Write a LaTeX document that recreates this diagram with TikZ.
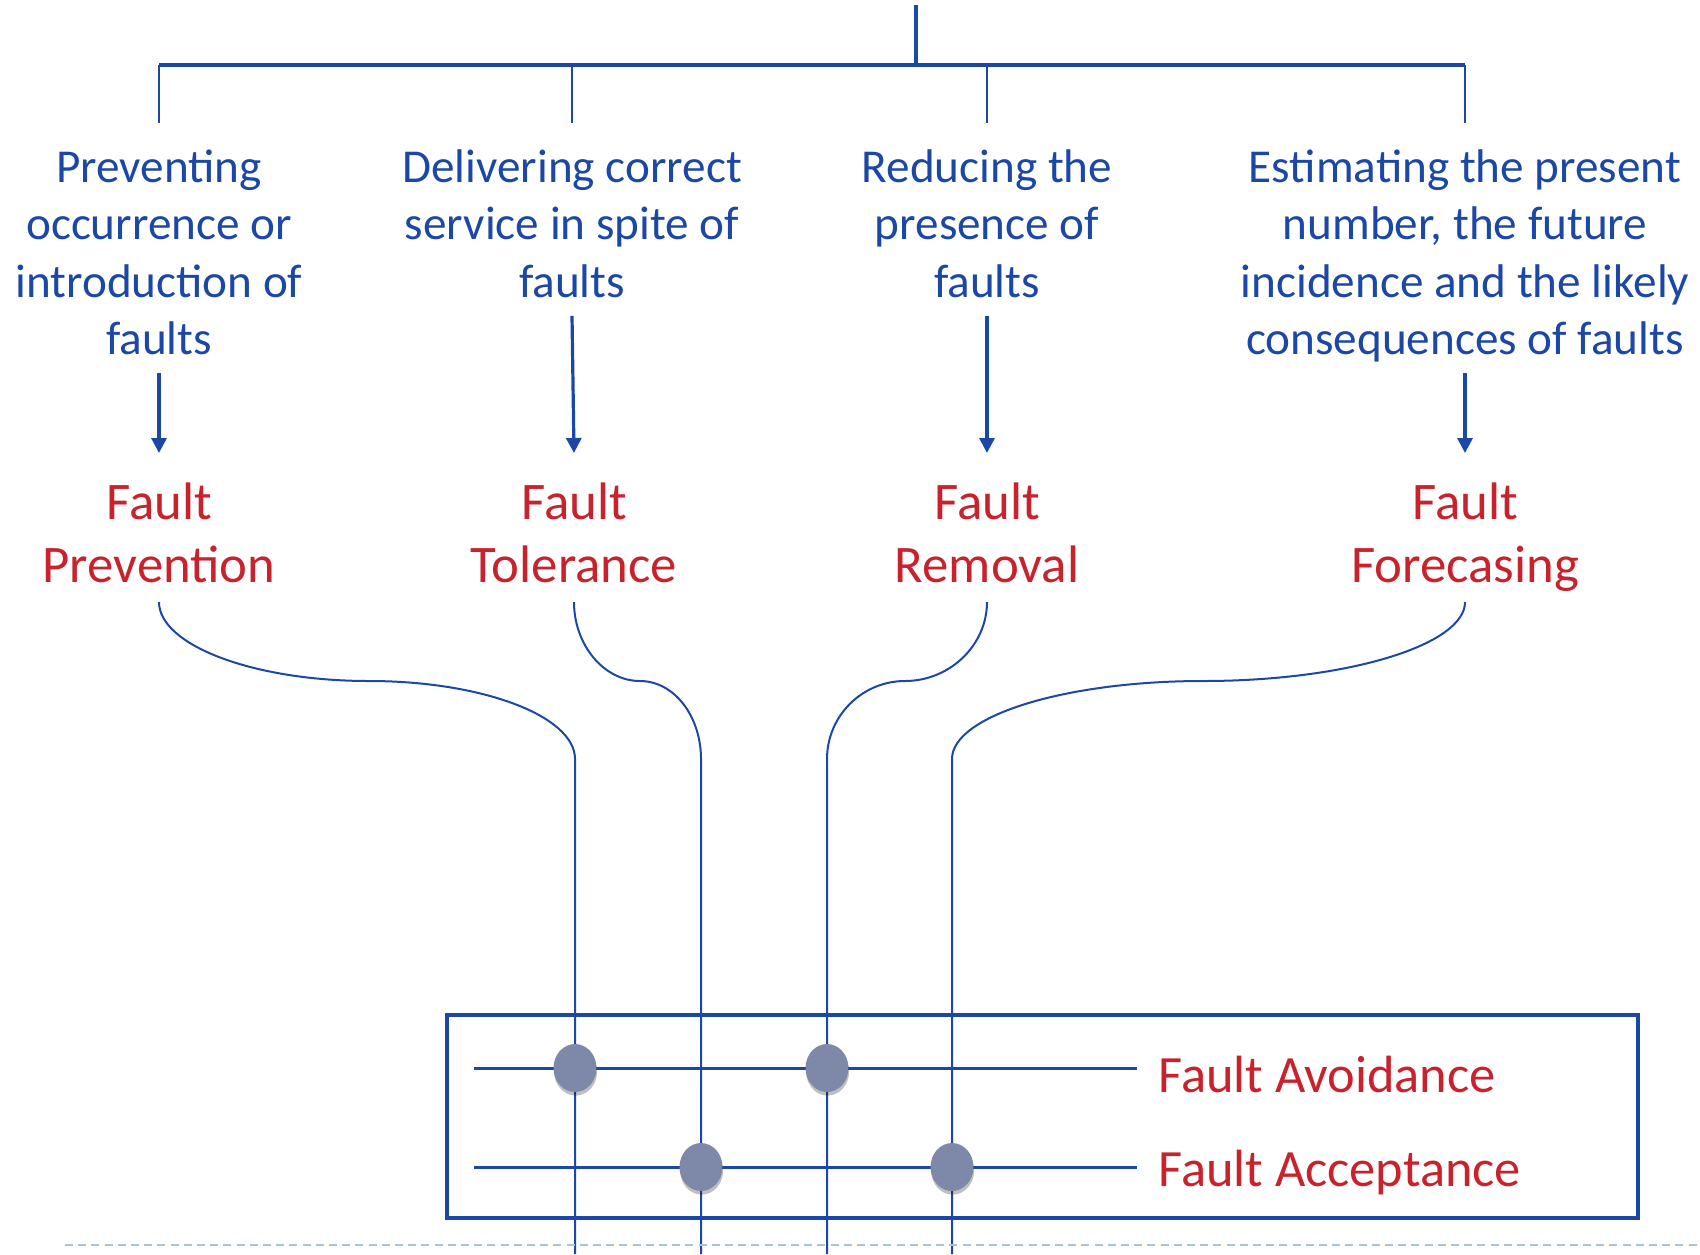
\documentclass[tikz,border=0pt]{standalone}
\usepackage{fontspec}
\setmainfont{Carlito}
\usetikzlibrary{arrows.meta,shapes.geometric,shadows,calc}
\definecolor{fblue}{HTML}{1B48A6}
\definecolor{fred}{HTML}{C8232C}
\definecolor{dotgray}{HTML}{7E88A8}
\definecolor{dashblue}{HTML}{A9C3DA}
\begin{document}
\begin{tikzpicture}[x=0.5pt,y=-0.5pt,
  desc/.style={text=fblue, font=\fontsize{23.6}{28.75}\selectfont, align=center, inner sep=0pt, anchor=north},
  kind/.style={text=fred, font=\fontsize{26.4}{31.5}\selectfont, align=center, inner sep=0pt, anchor=north},
  tag/.style={text=fred, font=\fontsize{26.2}{31.5}\selectfont, inner sep=0pt, anchor=west},
  bar/.style={draw=fblue, line width=1.8pt},
  drop/.style={draw=fblue, line width=1.1pt},
  arr/.style={draw=fblue, line width=1.6pt, -{Triangle[length=7.5pt,width=7.5pt]}},
  link/.style={draw=fblue, line width=1pt},
  row/.style={draw=fblue, line width=1.5pt},
  dot/.style={ellipse, minimum width=21.5pt, minimum height=24pt, inner sep=0pt, fill=dotgray,
    drop shadow={shadow xshift=0.3pt, shadow yshift=-1.8pt, opacity=0.25, fill=black}},
]
\useasboundingbox (0,0) rectangle (1700,1254);

% tree at the top
\coordinate (root) at (916,5);
\coordinate (hub) at (916,65);
\coordinate (b1) at (159,65);
\coordinate (b4) at (1465,65);
\draw[bar] (root) -- (hub);
\draw[bar] (b1) -- (b4);
\foreach \x/\n in {159/1,572/2,987/3,1465/4}{
  \coordinate (t\n) at (\x,65);
  \coordinate (e\n) at (\x,123);
  \draw[drop] (t\n) -- (e\n);
}

% descriptions
\node[desc] (d1) at (159,149) {Preventing\\occurrence or\\introduction of\\faults};
\node[desc] (d2) at (572,149) {Delivering correct\\service in spite of\\faults};
\node[desc] (d3) at (987,149) {Reducing the\\presence of\\faults};
\node[desc] (d4) at (1465,149) {Estimating the present\\number, the future\\incidence and the likely\\consequences of faults};

% means
\node[kind] (k1) at (159,482) {Fault\\Prevention};
\node[kind] (k2) at (574,482) {Fault\\Tolerance};
\node[kind] (k3) at (987,482) {Fault\\Removal};
\node[kind] (k4) at (1465,482) {Fault\\Forecasing};

% arrow starts: a fixed gap below the last text line
\coordinate (long) at ($(d1.south)+(0,18)$);
\coordinate (short) at ($(d2.south)+(0,18)$);
\coordinate (tip) at (0,453);
\coordinate (ctop) at (0,602);
\draw[arr] (d1.south |- long) -- (k1.north |- tip);
\draw[arr] (d2.south |- short) -- (k2.north |- tip);
\draw[arr] (d3.south |- short) -- (k3.north |- tip);
\draw[arr] (d4.south |- long) -- (k4.north |- tip);

% links down into the grouping box
\draw[link] (k1.south |- ctop) .. controls (159,645) and (253,681) .. (369,681)
  .. controls (482,681) and (575,716) .. (575,759) -- (575,1254);
\draw[link] (k2.south |- ctop) .. controls (574,645) and (604,681) .. (640,681)
  .. controls (674,681) and (701,716) .. (701,759) -- (701,1254);
\draw[link] (k3.south |- ctop) .. controls (987,645) and (950,681) .. (905,681)
  .. controls (862,681) and (827,716) .. (827,759) -- (827,1254);
\draw[link] (k4.south |- ctop) .. controls (1465,645) and (1347,681) .. (1203,681)
  .. controls (1065,681) and (952,716) .. (952,759) -- (952,1254);

% grouping box
\draw[draw=fblue, line width=2pt] (447,1015) rectangle (1638,1218);
\node[tag] (la) at (1158,1074) {Fault Avoidance};
\node[tag] (lc) at (1158,1173) {Fault Acceptance};
\coordinate (ra) at (474,1068);
\coordinate (rc) at (474,1167);
\draw[row, shorten >=10.5pt] (ra) -- (ra -| la.west);
\draw[row, shorten >=10.5pt] (rc) -- (rc -| lc.west);

\node[dot] (da1) at (575,1068) {};
\node[dot] (da2) at (827,1068) {};
\node[dot] (dc1) at (701,1167) {};
\node[dot] (dc2) at (952,1167) {};

% dashed rule along the bottom
\coordinate (rl) at (65,1245);
\coordinate (rr) at (1700,1245);
\draw[dashblue, line width=1.3pt, dash pattern=on 4pt off 2.6pt] (rl) -- (rr);
\end{tikzpicture}
\end{document}
